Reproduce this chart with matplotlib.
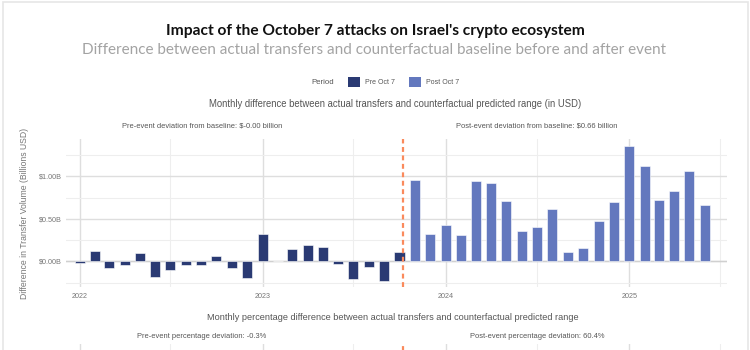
import numpy as np
import pandas as pd
import matplotlib
matplotlib.use('Agg')
import matplotlib.pyplot as plt
import matplotlib.dates as mdates
from matplotlib.patches import Patch, Rectangle

# monthly deviation from counterfactual baseline, billions USD
pre_months = pd.date_range("2022-01-01", "2023-10-01", freq="MS")
pre_vals = [-0.02, 0.128, -0.078, -0.047, 0.101, -0.183, -0.097, -0.039, -0.043, 0.07, -0.082, -0.19,
			0.319, 0.0, 0.144, 0.19, 0.171, -0.031, -0.206, -0.062, -0.226, 0.109]
post_months = pd.date_range("2023-11-01", "2025-06-01", freq="MS")
post_vals = [0.961, 0.319, 0.432, 0.307, 0.949, 0.918, 0.712, 0.362, 0.409, 0.619,
			 0.109, 0.156, 0.479, 0.696, 1.354, 1.121, 0.72, 0.829, 1.062, 0.669]
event_date = pd.Timestamp("2023-10-07")

yticks = [0.0, 0.5, 1.0]
ytick_labels = ["$0.00B", "$0.50B", "$1.00B"]
legend_labels = ["Pre Oct 7", "Post Oct 7"]

pre_color = "#2a3a73"
post_color = "#6378be"
event_color = "#fa8a5c"
grid_major = "#dedede"
grid_minor = "#eeeeee"

W, H = 750, 350
fig = plt.figure(figsize=(7.5, 3.5), dpi=100)
fig.patch.set_facecolor("white")

def px(l, t, r, b):
	return [l / W, 1 - b / H, (r - l) / W, (b - t) / H]

xlim = (pd.Timestamp("2021-12-05"), pd.Timestamp("2025-07-15"))

def style_axes(ax):
	ax.set_xlim(xlim)
	for s in ax.spines.values():
		s.set_visible(False)
	ax.xaxis.set_major_locator(mdates.YearLocator())
	ax.xaxis.set_minor_locator(mdates.MonthLocator(bymonth=7))
	ax.xaxis.set_major_formatter(mdates.DateFormatter("%Y"))
	ax.grid(True, which="major", color=grid_major, linewidth=1.0, zorder=0)
	ax.grid(True, which="minor", color=grid_minor, linewidth=0.8, zorder=0)
	ax.tick_params(which="both", length=0, colors="#777777", labelsize=5.2)
	ax.tick_params(axis="x", pad=4)
	ax.tick_params(axis="y", pad=3)
	ax.set_axisbelow(True)

small = dict(ha="center", va="center", color="#555555", family="Liberation Sans")

# top panel
ax = fig.add_axes(px(66, 139, 727, 287))
style_axes(ax)
ax.bar(pre_months, pre_vals, width=20, color=pre_color, edgecolor="white", linewidth=0.4, zorder=3)
ax.bar(post_months, post_vals, width=20, color=post_color, edgecolor="white", linewidth=0.4, zorder=3)
ax.axvline(event_date, color=event_color, linestyle=(0, (2.2, 1.6)), linewidth=1.6, zorder=4)
ax.set_ylim(-0.30, 1.44)
ax.set_yticks(yticks, ytick_labels)
ax.set_yticks([-0.25, 0.25, 0.75, 1.25], minor=True)
ax.axhline(0, color="#d0d0d0", linewidth=1.0, zorder=1)
for lab in ax.get_xticklabels() + ax.get_yticklabels():
	lab.set_family("Liberation Sans")

fig.text(395 / W, 1 - 104 / H,
		 "Monthly difference between actual transfers and counterfactual predicted range (in USD)",
		 fontsize=6.85, **small)
fig.text(202 / W, 1 - 126 / H, "Pre-event deviation from baseline: $-0.00 billion", fontsize=5.4, **small)
fig.text(537 / W, 1 - 126 / H, "Post-event deviation from baseline: $0.66 billion", fontsize=5.4, **small)
fig.text(25 / W, 1 - 213 / H, "Difference in Transfer Volume (Billions USD)", rotation=90,
		 ha="center", va="center", fontsize=6.2, color="#777777", family="Liberation Sans")

# bottom panel, mostly cut off by the figure edge
ax2 = fig.add_axes(px(66, 344, 727, 494))
style_axes(ax2)
ax2.axvline(event_date, color=event_color, linestyle=(0, (2.2, 1.6)), linewidth=1.6, zorder=4)
ax2.set_ylim(0, 1)
ax2.set_yticks([0.2, 0.5])
ax2.set_yticks([], minor=True)
ax2.tick_params(labelleft=False, labelbottom=False)
fig.text(393 / W, 1 - 318 / H,
		 "Monthly percentage difference between actual transfers and counterfactual predicted range",
		 fontsize=6.6, **small)
fig.text(202 / W, 1 - 337 / H, "Pre-event percentage deviation: -0.3%", fontsize=5.4, **small)
fig.text(537 / W, 1 - 337 / H, "Post-event percentage deviation: 60.4%", fontsize=5.4, **small)

# titles
fig.text(375 / W, 1 - 31 / H, "Impact of the October 7 attacks on Israel's crypto ecosystem",
		 ha="center", va="center", fontsize=11.2, fontweight="bold", color="#111111", family="Lato")
fig.text(374 / W, 1 - 50 / H,
		 "Difference between actual transfers and counterfactual baseline before and after event",
		 ha="center", va="center", fontsize=11.0, fontweight="normal", color="#a3a3a3", family="Lato")

# legend
fig.text(323 / W, 1 - 82 / H, "Period", fontsize=5.6, **small)
handles = [Patch(facecolor=pre_color), Patch(facecolor=post_color)]
leg = fig.legend(handles, legend_labels, loc="center left", bbox_to_anchor=(348 / W, 1 - 82 / H),
				 ncol=2, frameon=False, borderpad=0, borderaxespad=0,
				 handlelength=1.75, handleheight=1.75, handletextpad=0.7, columnspacing=2.0,
				 prop={"family": "Liberation Sans", "size": 5})
for t in leg.get_texts():
	t.set_color("#555555")

# outer frame
fig.patches.append(Rectangle((2.5 / W, -0.1), 745 / W, 1.1 - 2.5 / H, transform=fig.transFigure,
							 fill=False, edgecolor="#e6e6e6", linewidth=1.2))

fig.savefig("out.png", dpi=100)
